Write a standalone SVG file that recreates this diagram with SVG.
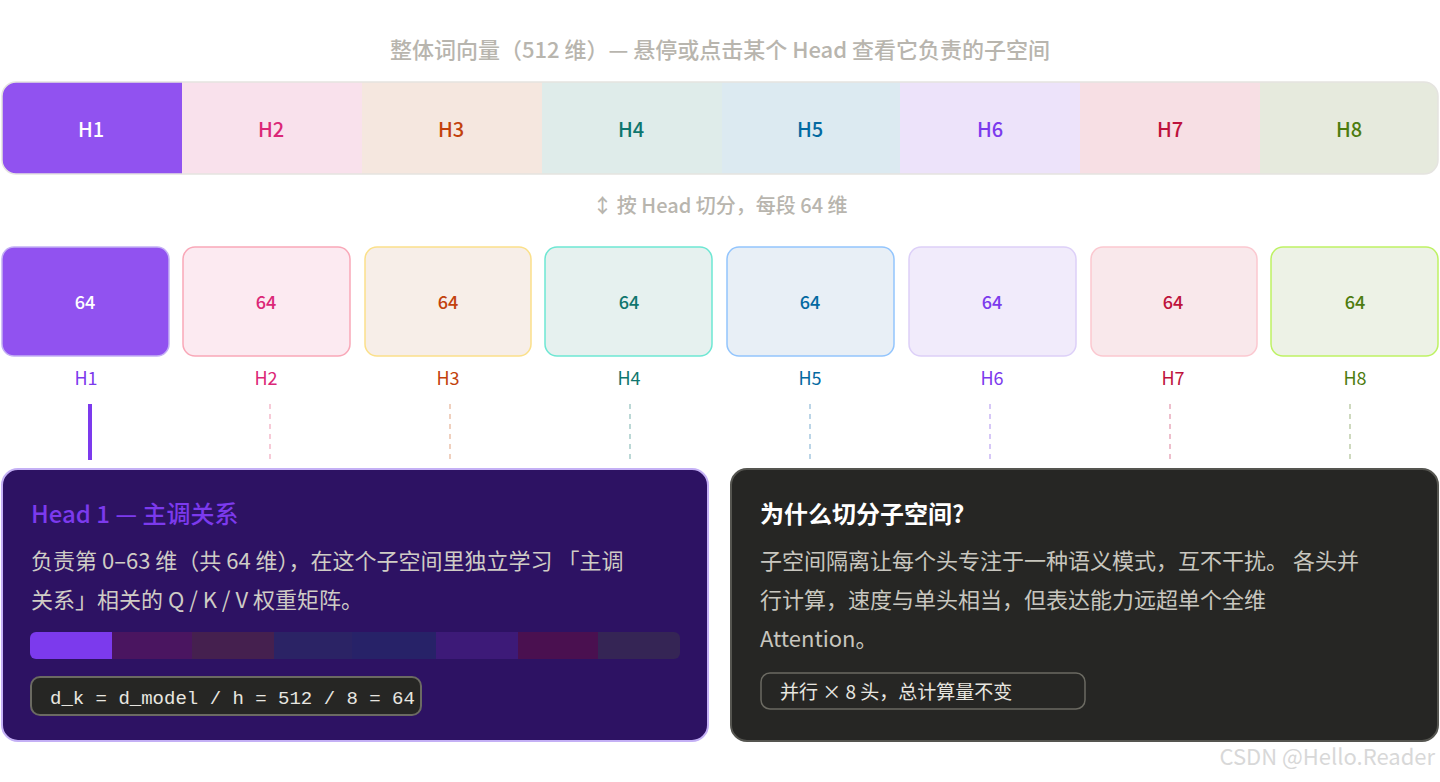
<svg xmlns="http://www.w3.org/2000/svg" width="1440" height="782" viewBox="0 0 1440 782">
<style>
text{font-family:"Noto Sans CJK SC","Noto Sans",sans-serif}
.seg{font-size:20px;text-anchor:middle;font-weight:500}
.num{font-size:18px;text-anchor:middle;font-weight:500}
.lbl{font-size:18px;text-anchor:middle}
.dash{stroke-width:1.5;stroke-dasharray:5 5;opacity:.6}
.mono{font-family:"Liberation Mono","DejaVu Sans Mono",monospace}
</style>
<rect width="1440" height="782" fill="#fff"/>
<text x="720" y="58" font-size="22" fill="#b8b5ae" text-anchor="middle" font-weight="500">整体词向量（512 维）— 悬停或点击某个 Head 查看它负责的子空间</text>
<g id="wordvec">
<clipPath id="cb"><rect x="2" y="82" width="1436" height="92" rx="14"/></clipPath>
<g clip-path="url(#cb)">
<rect x="2" y="82" width="180" height="92" fill="#9152f0"/>
<rect x="182" y="82" width="180" height="92" fill="#f9e1ec"/>
<rect x="362" y="82" width="180" height="92" fill="#f5e7df"/>
<rect x="542" y="82" width="180" height="92" fill="#dfecea"/>
<rect x="722" y="82" width="178" height="92" fill="#dceaf1"/>
<rect x="900" y="82" width="180" height="92" fill="#ede3fa"/>
<rect x="1080" y="82" width="180" height="92" fill="#f7dfe4"/>
<rect x="1260" y="82" width="178" height="92" fill="#e6eadd"/>
</g>
<rect x="2" y="82" width="1436" height="92" rx="14" fill="none" stroke="#e5e4e0" stroke-width="1.5"/>
<text class="seg" x="91" y="137" fill="#fff">H1</text>
<text class="seg" x="271" y="137" fill="#db2777">H2</text>
<text class="seg" x="451" y="137" fill="#c2410c">H3</text>
<text class="seg" x="631" y="137" fill="#0f766e">H4</text>
<text class="seg" x="810" y="137" fill="#0369a1">H5</text>
<text class="seg" x="990" y="137" fill="#7c3aed">H6</text>
<text class="seg" x="1170" y="137" fill="#be123c">H7</text>
<text class="seg" x="1349" y="137" fill="#4d7c0f">H8</text>
</g>
<text x="720" y="213" font-size="20" fill="#b8b5ae" text-anchor="middle" font-weight="500">↕ 按 Head 切分，每段 64 维</text>
<g id="h1"><rect x="2" y="247" width="167" height="109" rx="12" fill="#9152f0" stroke="#c4b0f5" stroke-width="1.5"/><text class="num" x="85" y="309" fill="#fff" font-weight="700">64</text><text class="lbl" x="86" y="385" fill="#7c3aed">H1</text></g>
<g id="h2"><rect x="183" y="247" width="167" height="109" rx="12" fill="#fceaf1" stroke="#f9a8b8" stroke-width="1.5"/><text class="num" x="266" y="309" fill="#db2777">64</text><text class="lbl" x="266" y="385" fill="#db2777">H2</text></g>
<g id="h3"><rect x="365" y="247" width="166" height="109" rx="12" fill="#f7eee8" stroke="#fbe08a" stroke-width="1.5"/><text class="num" x="448" y="309" fill="#c2410c">64</text><text class="lbl" x="448" y="385" fill="#c2410c">H3</text></g>
<g id="h4"><rect x="545" y="247" width="167" height="109" rx="12" fill="#e6f1ef" stroke="#6ee7d3" stroke-width="1.5"/><text class="num" x="629" y="309" fill="#0f766e">64</text><text class="lbl" x="629" y="385" fill="#0f766e">H4</text></g>
<g id="h5"><rect x="727" y="247" width="167" height="109" rx="12" fill="#e8eff6" stroke="#93c5fd" stroke-width="1.5"/><text class="num" x="810" y="309" fill="#0369a1">64</text><text class="lbl" x="810" y="385" fill="#0369a1">H5</text></g>
<g id="h6"><rect x="909" y="247" width="167" height="109" rx="12" fill="#f1ebfb" stroke="#ddd0f8" stroke-width="1.5"/><text class="num" x="992" y="309" fill="#7c3aed">64</text><text class="lbl" x="992" y="385" fill="#7c3aed">H6</text></g>
<g id="h7"><rect x="1091" y="247" width="166" height="109" rx="12" fill="#f9e8eb" stroke="#fbc8d0" stroke-width="1.5"/><text class="num" x="1173" y="309" fill="#be123c">64</text><text class="lbl" x="1173" y="385" fill="#be123c">H7</text></g>
<g id="h8"><rect x="1271" y="247" width="167" height="109" rx="12" fill="#edf2e6" stroke="#bef264" stroke-width="1.5"/><text class="num" x="1355" y="309" fill="#4d7c0f">64</text><text class="lbl" x="1355" y="385" fill="#4d7c0f">H8</text></g>
<g id="connectors">
<line x1="90" y1="404" x2="90" y2="460" stroke="#7c3aed" stroke-width="4"/>
<line class="dash" x1="270" y1="404" x2="270" y2="460" stroke="#f08aa8"/>
<line class="dash" x1="450" y1="404" x2="450" y2="460" stroke="#e09870"/>
<line class="dash" x1="630" y1="404" x2="630" y2="460" stroke="#6aaaa5"/>
<line class="dash" x1="810" y1="404" x2="810" y2="460" stroke="#6aa4cc"/>
<line class="dash" x1="990" y1="404" x2="990" y2="460" stroke="#a585ef"/>
<line class="dash" x1="1170" y1="404" x2="1170" y2="460" stroke="#dc7090"/>
<line class="dash" x1="1350" y1="404" x2="1350" y2="460" stroke="#95ad70"/>
</g>
<g id="headcard">
<rect x="2" y="469" width="706" height="272" rx="16" fill="#2d1263" stroke="#c4b0f5" stroke-width="2"/>
<text x="31" y="523" font-size="24" fill="#7c3aed" font-weight="500">Head 1 — 主调关系</text>
<text x="31" y="569" font-size="22" fill="#cfccc5">负责第 0–63 维（共 64 维），在这个子空间里独立学习 「主调</text>
<text x="31" y="608" font-size="22" fill="#cfccc5">关系」相关的 Q / K / V 权重矩阵。</text>
<clipPath id="cbar"><rect x="30" y="632" width="650" height="27" rx="6"/></clipPath>
<g clip-path="url(#cbar)">
<rect x="30" y="632" width="82" height="27" fill="#7c3aed"/>
<rect x="112" y="632" width="80" height="27" fill="#4a1560"/>
<rect x="192" y="632" width="82" height="27" fill="#45204f"/>
<rect x="274" y="632" width="78" height="27" fill="#2b2365"/>
<rect x="352" y="632" width="84" height="27" fill="#272268"/>
<rect x="436" y="632" width="82" height="27" fill="#3d1a78"/>
<rect x="518" y="632" width="80" height="27" fill="#4a1050"/>
<rect x="598" y="632" width="82" height="27" fill="#352555"/>
</g>
<rect x="31" y="677" width="390" height="38" rx="9" fill="#262624" stroke="#6b6a62" stroke-width="2"/>
<text class="mono" x="50" y="704" font-size="19" fill="#e8e6e0">d_k = d_model / h = 512 / 8 = 64</text>
</g>
<g id="whycard">
<rect x="731" y="469" width="707" height="272" rx="16" fill="#262624" stroke="#555550" stroke-width="2"/>
<text x="760" y="523" font-size="24" fill="#ffffff" font-weight="700">为什么切分子空间?</text>
<text x="760" y="569" font-size="22" fill="#c8c6bf">子空间隔离让每个头专注于一种语义模式，互不干扰。 各头并</text>
<text x="760" y="608" font-size="22" fill="#c8c6bf">行计算，速度与单头相当，但表达能力远超单个全维</text>
<text x="760" y="647" font-size="22" fill="#c8c6bf">Attention。</text>
<rect x="761" y="673" width="324" height="36" rx="9" fill="none" stroke="#6b6a62" stroke-width="1.5"/>
<text x="780" y="699" font-size="19" fill="#e8e6e0">并行 × 8 头，总计算量不变</text>
</g>
<text x="1435" y="765" font-size="22" fill="#d8d8d8" text-anchor="end" font-family="Liberation Sans,sans-serif">CSDN @Hello.Reader</text>
</svg>
